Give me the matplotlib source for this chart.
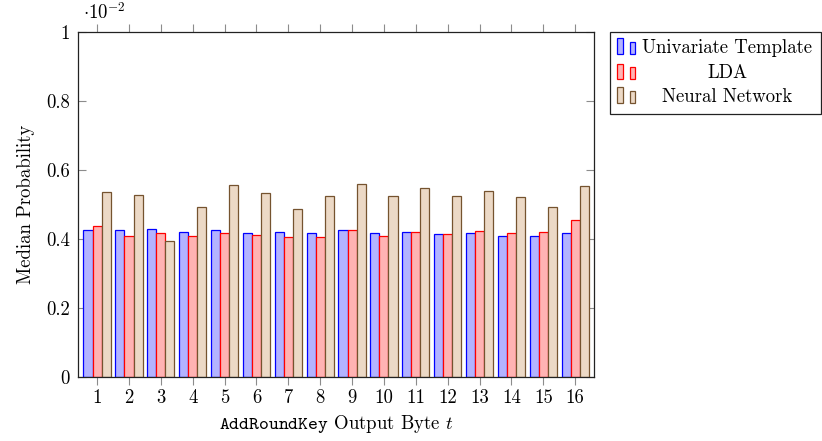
import matplotlib
matplotlib.use("Agg")
import matplotlib.pyplot as plt
from matplotlib.patches import Rectangle
import numpy as np

plt.rcParams['font.family'] = ['cmr10', 'DejaVu Serif']
plt.rcParams['mathtext.fontset'] = 'cm'
plt.rcParams['axes.unicode_minus'] = False
plt.rcParams['axes.formatter.use_mathtext'] = True

# Data (units of 10^-2)
bytes_t = list(range(1, 17))
univariate = [0.426, 0.427, 0.429, 0.420, 0.426, 0.418, 0.420, 0.416,
              0.426, 0.417, 0.419, 0.414, 0.417, 0.410, 0.410, 0.417]
lda = [0.438, 0.410, 0.418, 0.410, 0.417, 0.412, 0.406, 0.406,
       0.426, 0.410, 0.419, 0.414, 0.423, 0.417, 0.421, 0.455]
neural = [0.536, 0.528, 0.394, 0.494, 0.557, 0.534, 0.488, 0.525,
          0.559, 0.524, 0.548, 0.525, 0.539, 0.522, 0.493, 0.554]
series_names = ["Univariate Template", "LDA", "Neural Network"]
ytick_vals = [0, 0.2, 0.4, 0.6, 0.8, 1]
ytick_labels = ["0", "0.2", "0.4", "0.6", "0.8", "1"]

fills = ["#B3B3FF", "#FFB3B3", "#ECD9C6"]
edges = ["#0000FF", "#FF0000", "#75532F"]

FS = 13.5
W, H = 822, 441
fig = plt.figure(figsize=(W / 100, H / 100), dpi=100)
ax = fig.add_axes([78 / W, 1 - 377 / H, (594.3 - 78) / W, (377 - 32) / H])

x = np.array(bytes_t, dtype=float)
bw = 0.285
for i, vals in enumerate([univariate, lda, neural]):
    ax.bar(x + (i - 1) * bw, vals, width=bw, color=fills[i],
           edgecolor=edges[i], linewidth=0.9, zorder=2)

ax.set_xlim(0.4, 16.6)
ax.set_ylim(0, 1)
ax.set_xticks(bytes_t)
ax.set_xticklabels([str(b) for b in bytes_t])
ax.set_yticks(ytick_vals)
ax.set_yticklabels(ytick_labels)
ax.tick_params(axis='x', direction='out', top=True, bottom=True, length=6,
               width=0.8, color='#8c8c8c', labelsize=FS, pad=3)
ax.tick_params(axis='y', direction='in', left=True, right=True, length=6,
               width=0.8, color='#8c8c8c', labelsize=FS, pad=6)
for s in ax.spines.values():
    s.set_linewidth(0.9)
    s.set_color('#222222')

ax.set_ylabel("Median Probability", fontsize=FS, labelpad=8)
ax.set_xlabel(r"$\mathtt{AddRoundKey}$ Output Byte $t$", fontsize=FS, labelpad=4)
ax.text(5 / (594.3 - 78), 1.025, r"$\cdot 10^{-2}$", transform=ax.transAxes,
        fontsize=FS, ha='left', va='bottom')


def fx(px):
    return px / W


def fy(py):
    return 1 - py / H


# Manual legend (pgfplots style)
fig.patches.append(Rectangle((fx(610), fy(114)), fx(821) - fx(610), fy(32) - fy(114),
                             transform=fig.transFigure, facecolor='white',
                             edgecolor='#222222', linewidth=0.9))
row_y = [47.7, 73.3, 96.7]
for i, name in enumerate(series_names):
    cy = row_y[i]
    fig.patches.append(Rectangle((fx(617), fy(cy + 6)), fx(5.5), fy(0) - fy(15.5),
                                 transform=fig.transFigure, facecolor=fills[i],
                                 edgecolor=edges[i], linewidth=0.9))
    fig.patches.append(Rectangle((fx(629.5), fy(cy + 6)), fx(5.5), fy(0) - fy(12),
                                 transform=fig.transFigure, facecolor=fills[i],
                                 edgecolor=edges[i], linewidth=0.9))
    fig.text(fx(727), fy(cy), name, ha='center', va='center', fontsize=FS)

fig.savefig("out.png", dpi=100)
